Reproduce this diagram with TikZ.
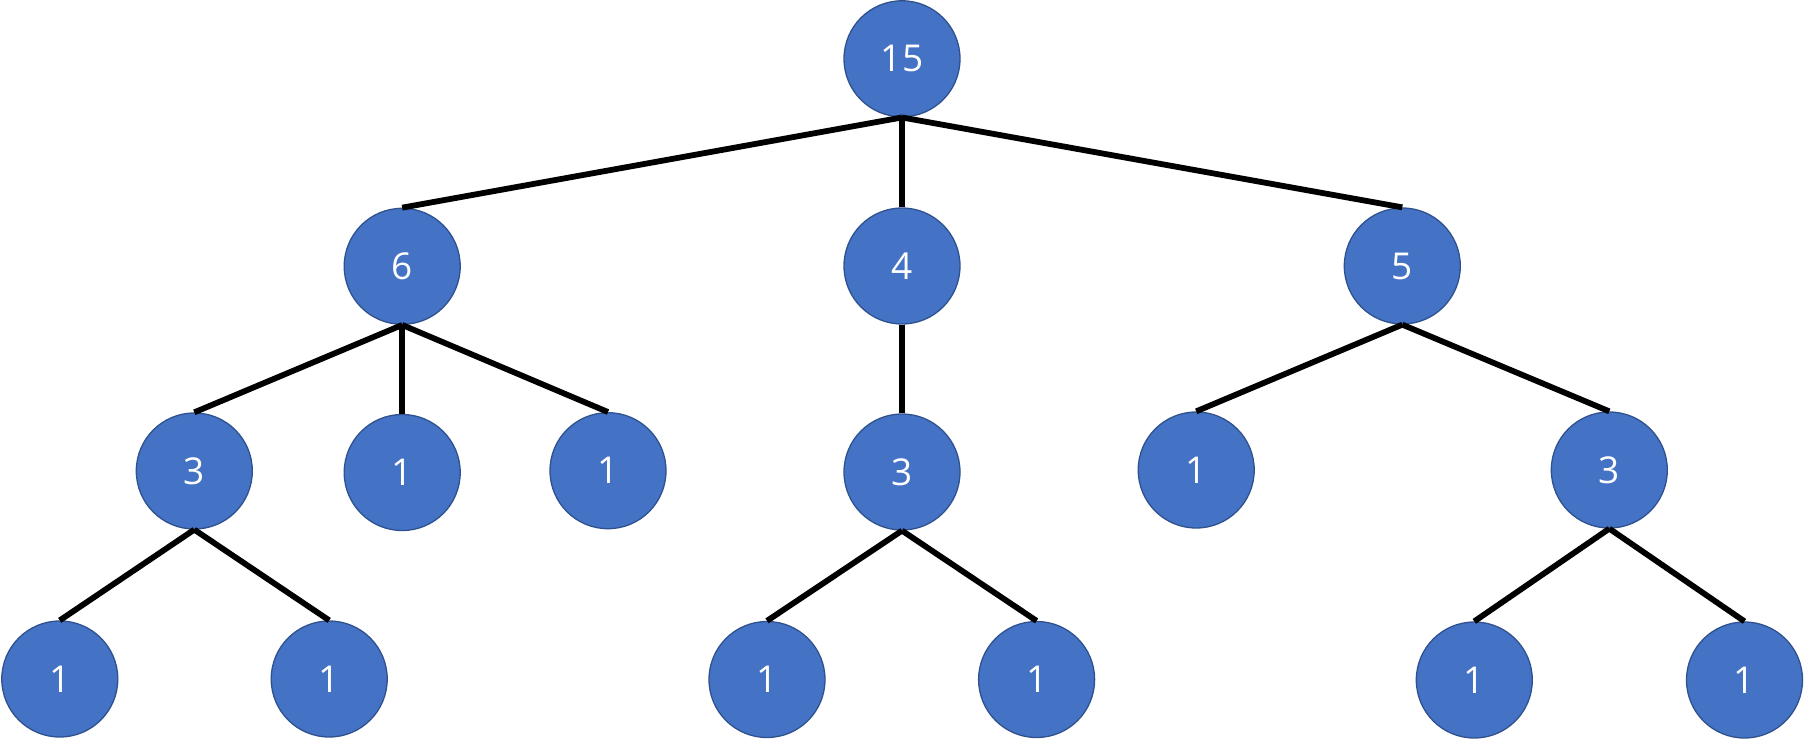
\documentclass[tikz,border=0pt]{standalone}
\usepackage{fontspec}
\setmainfont{Open Sans}
\definecolor{nodefill}{HTML}{4472C4}
\definecolor{nodeedge}{HTML}{2F528F}
\begin{document}
\begin{tikzpicture}[x=1pt,y=-1pt,
  treenode/.style={circle,fill=nodefill,draw=nodeedge,line width=1.3pt,
    minimum size=116pt,inner sep=0pt,text=white,font=\fontsize{37}{40}\selectfont},
  edge/.style={draw=black,line width=5.8pt,line cap=butt}]
\useasboundingbox (0,0) rectangle (1804,739);
% level 1
\node[treenode] (r) at (902,58.8) {15};
% level 2
\node[treenode] (a) at (402.2,266.3) {6};
\node[treenode] (b) at (902,266) {4};
\node[treenode] (c) at (1402.3,266) {5};
% level 3
\node[treenode] (a1) at (194.3,471) {3};
\node[treenode] (a2) at (402.2,472.5) {1};
\node[treenode] (a3) at (608,470.7) {1};
\node[treenode] (b1) at (902,472) {3};
\node[treenode] (c1) at (1196.2,470) {1};
\node[treenode] (c2) at (1609.3,470) {3};
% level 4
\node[treenode] (a11) at (59.8,679) {1};
\node[treenode] (a12) at (329.2,679) {1};
\node[treenode] (b11) at (767,679.5) {1};
\node[treenode] (b12) at (1036.6,679.5) {1};
\node[treenode] (c21) at (1474.3,680) {1};
\node[treenode] (c22) at (1744.5,680) {1};
% connectors
\foreach \p/\c in {r/a,r/b,r/c,a/a1,a/a2,a/a3,b/b1,c/c1,c/c2,a1/a11,a1/a12,b1/b11,b1/b12,c2/c21,c2/c22}
  \draw[edge] (\p.south) -- (\c.north);
\end{tikzpicture}
\end{document}
